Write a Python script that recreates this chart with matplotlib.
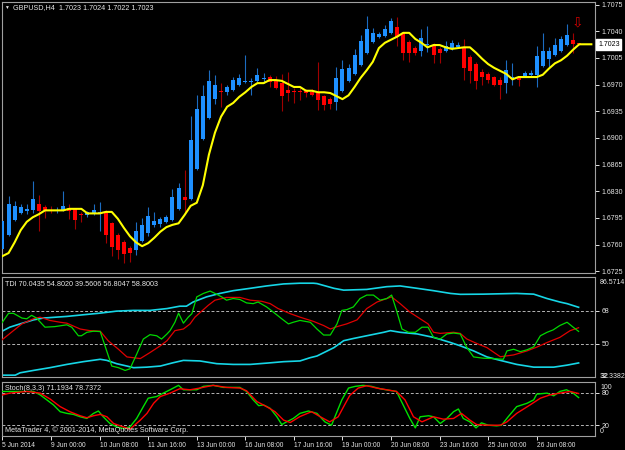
import matplotlib
matplotlib.use("Agg")
import matplotlib.pyplot as plt
import matplotlib.transforms as mtransforms
import numpy as np

plt.rcParams['font.family'] = ['Liberation Sans', 'DejaVu Sans']

# ---------------- data ----------------
opens = [1.6754, 1.6773, 1.6792, 1.6801, 1.6804, 1.6805, 1.6813, 1.6809, 1.6805, 1.6804,
         1.6805, 1.6808, 1.6807, 1.6800, 1.6799, 1.6801, 1.6800, 1.6801, 1.6788, 1.6773,
         1.6763, 1.6756, 1.6753, 1.6765, 1.6775, 1.6786, 1.6787, 1.6790, 1.6792, 1.6807,
         1.6823, 1.6820, 1.6859, 1.6899, 1.6926, 1.6951, 1.6962, 1.6960, 1.6963, 1.6970,
         1.6973, 1.6973, 1.6975, 1.6977, 1.6980, 1.6975, 1.6972, 1.6963, 1.6962, 1.6962,
         1.6962, 1.6960, 1.6959, 1.6955, 1.6951, 1.6947, 1.6962, 1.6975, 1.6984, 1.6996,
         1.7012, 1.7026, 1.7033, 1.7034, 1.7038, 1.7046, 1.7038, 1.7026, 1.7018, 1.7014,
         1.7022, 1.7022, 1.7017, 1.7014, 1.7018, 1.7019, 1.7019, 1.7006, 1.6997, 1.6987,
         1.6984, 1.6980, 1.6976, 1.6972, 1.6979, 1.6980, 1.6981, 1.6983, 1.6983, 1.6995,
         1.7004, 1.7009, 1.7014, 1.7022, 1.7029, 1.7023]
highs = [1.6809, 1.6824, 1.6817, 1.6813, 1.6813, 1.6843, 1.6825, 1.6812, 1.6811, 1.6809,
         1.6830, 1.6813, 1.6808, 1.6803, 1.6804, 1.6813, 1.6816, 1.6805, 1.6790, 1.6775,
         1.6766, 1.6758, 1.6790, 1.6795, 1.6809, 1.6803, 1.6796, 1.6799, 1.6833, 1.6841,
         1.6858, 1.6929, 1.6956, 1.6970, 1.6989, 1.6983, 1.6972, 1.6970, 1.6980, 1.6984,
         1.7009, 1.6979, 1.6992, 1.6985, 1.6983, 1.6981, 1.6984, 1.6987, 1.6966, 1.6966,
         1.6964, 1.6964, 1.7000, 1.6956, 1.6954, 1.6993, 1.7002, 1.6997, 1.7017, 1.7035,
         1.7060, 1.7044, 1.7039, 1.7048, 1.7058, 1.7059, 1.7039, 1.7029, 1.7021, 1.7043,
         1.7047, 1.7025, 1.7019, 1.7027, 1.7029, 1.7026, 1.7030, 1.7009, 1.7000, 1.6991,
         1.6987, 1.6981, 1.6980, 1.7002, 1.6998, 1.6981, 1.6988, 1.6989, 1.7021, 1.7038,
         1.7019, 1.7031, 1.7034, 1.7050, 1.7038, 1.7024]
lows = [1.6753, 1.6771, 1.6791, 1.6800, 1.6800, 1.6801, 1.6778, 1.6795, 1.6801, 1.6801,
        1.6804, 1.6794, 1.6780, 1.6790, 1.6796, 1.6799, 1.6778, 1.6762, 1.6745, 1.6741,
        1.6736, 1.6737, 1.6746, 1.6763, 1.6771, 1.6783, 1.6783, 1.6788, 1.6791, 1.6805,
        1.6801, 1.6819, 1.6858, 1.6897, 1.6925, 1.6945, 1.6941, 1.6956, 1.6962, 1.6968,
        1.6972, 1.6956, 1.6973, 1.6972, 1.6967, 1.6964, 1.6935, 1.6949, 1.6946, 1.6950,
        1.6954, 1.6955, 1.6937, 1.6937, 1.6938, 1.6937, 1.6960, 1.6973, 1.6983, 1.6995,
        1.7010, 1.7025, 1.7031, 1.7033, 1.7037, 1.7021, 1.7002, 1.7000, 1.7009, 1.7008,
        1.7013, 1.6998, 1.6998, 1.7013, 1.7016, 1.7018, 1.6976, 1.6972, 1.6964, 1.6970,
        1.6972, 1.6968, 1.6951, 1.6959, 1.6970, 1.6968, 1.6980, 1.6980, 1.6967, 1.6993,
        1.6993, 1.7008, 1.7013, 1.7021, 1.7012, 1.7022]
closes = [1.6791, 1.6813, 1.6811, 1.6809, 1.6807, 1.6820, 1.6804, 1.6805, 1.6804, 1.6805,
          1.6811, 1.6804, 1.6792, 1.6799, 1.6803, 1.6805, 1.6803, 1.6773, 1.6757, 1.6753,
          1.6748, 1.6749, 1.6778, 1.6786, 1.6798, 1.6791, 1.6794, 1.6796, 1.6823, 1.6834,
          1.6819, 1.6897, 1.6938, 1.6955, 1.6975, 1.6970, 1.6960, 1.6967, 1.6976, 1.6979,
          1.6975, 1.6975, 1.6983, 1.6979, 1.6973, 1.6966, 1.6955, 1.6959, 1.6960, 1.6960,
          1.6959, 1.6956, 1.6950, 1.6943, 1.6945, 1.6979, 1.6991, 1.6992, 1.7009, 1.7027,
          1.7043, 1.7038, 1.7037, 1.7043, 1.7054, 1.7033, 1.7012, 1.7012, 1.7012, 1.7031,
          1.7023, 1.7009, 1.7012, 1.7021, 1.7025, 1.7022, 1.6992, 1.6988, 1.6975, 1.6980,
          1.6976, 1.6970, 1.6970, 1.6989, 1.6980, 1.6976, 1.6985, 1.6985, 1.7008, 1.7014,
          1.7014, 1.7022, 1.7030, 1.7035, 1.7023, 1.7023]

# yellow moving average (shifted forward, so it runs two bars past the last candle)
ma_values = [1.6745, 1.6749, 1.6763, 1.6779, 1.6790, 1.6796, 1.6800, 1.6805, 1.6805, 1.6805,
             1.6805, 1.6807, 1.6807, 1.6807, 1.6801, 1.6801, 1.6801, 1.6803, 1.6803, 1.6794,
             1.6782, 1.6771, 1.6763, 1.6758, 1.6762, 1.6769, 1.6777, 1.6783, 1.6786, 1.6788,
             1.6799, 1.6811, 1.6815, 1.6838, 1.6878, 1.6907, 1.6928, 1.6941, 1.6946, 1.6954,
             1.6960, 1.6967, 1.6972, 1.6972, 1.6976, 1.6976, 1.6975, 1.6971, 1.6967, 1.6967,
             1.6962, 1.6962, 1.6960, 1.6960, 1.6959, 1.6955, 1.6951, 1.6956, 1.6967, 1.6979,
             1.6989, 1.7000, 1.7018, 1.7025, 1.7029, 1.7033, 1.7038, 1.7038, 1.7030, 1.7025,
             1.7019, 1.7022, 1.7022, 1.7019, 1.7017, 1.7018, 1.7019, 1.7019, 1.7012, 1.7004,
             1.6997, 1.6992, 1.6988, 1.6984, 1.6977, 1.6980, 1.6980, 1.6980, 1.6980, 1.6983,
             1.6991, 1.6998, 1.7002, 1.7008, 1.7016, 1.7023, 1.7023, 1.7023]

price_ticks = [1.6725, 1.6760, 1.6795, 1.6830, 1.6865, 1.6900, 1.6935, 1.6970, 1.7005, 1.7040, 1.7075]
last_price = 1.7023
arrow_bar = 95
arrow_price = 1.7051

# TDI (x = bar position, v = value)
tdi_rsi_x = [-0.4, 1.0, 1.8, 3.2, 4.0, 4.8, 5.6, 7.0, 8.6, 10.6, 11.4, 12.5, 13.0, 13.9, 15.0, 16.1,
             18.0, 19.1, 20.2, 21.0, 22.1, 23.2, 24.3, 25.4, 26.2, 27.1, 27.6, 28.4, 29.0, 29.8,
             30.6, 31.2, 32.0, 33.1, 34.2, 35.0, 36.1, 36.9, 38.0, 39.1, 40.2, 41.3, 42.1, 43.5,
             44.6, 46.0, 47.1, 47.9, 49.0, 50.7, 51.8, 52.9, 54.0, 55.1, 55.9, 56.7, 57.8, 58.9,
             60.0, 61.1, 62.2, 63.3, 64.1, 64.9, 65.8, 66.9, 68.0, 69.1, 70.1, 71.0, 72.1, 73.2,
             74.3, 75.4, 76.5, 77.6, 79.2, 80.9, 82.5, 83.1, 84.2, 85.3, 86.4, 87.5, 88.6, 89.7,
             90.7, 91.8, 93.0, 94.0, 94.9]
tdi_rsi_v = [60.0, 66.7, 66.7, 64.1, 63.7, 65.6, 64.1, 59.1, 59.4, 60.4, 59.1, 54.4, 54.4, 56.3, 56.9, 56.7,
             37.8, 36.9, 35.4, 36.3, 44.3, 52.6, 55.0, 54.4, 52.6, 55.4, 57.2, 61.8, 66.8, 61.3,
             64.6, 66.5, 75.7, 77.6, 78.9, 77.6, 75.7, 73.9, 74.8, 74.3, 72.4, 72.0, 72.9, 70.2,
             67.4, 63.7, 60.9, 61.8, 62.8, 61.8, 58.1, 54.8, 54.8, 60.9, 68.3, 68.7, 70.2, 74.8,
             76.7, 76.7, 73.9, 74.8, 76.7, 68.3, 58.1, 56.3, 56.3, 59.1, 59.1, 53.5, 52.6, 55.4,
             55.9, 55.4, 47.9, 42.8, 42.1, 41.9, 41.5, 46.1, 47.0, 45.7, 46.7, 48.3, 54.4, 56.3,
             57.6, 60.0, 61.8, 59.1, 56.8]
tdi_sig_x = [-0.4, 1.8, 3.2, 5.1, 6.2, 7.8, 9.5, 10.6, 11.9, 12.8, 14.4, 16.1, 17.4, 19.1, 20.5, 22.7,
             24.3, 26.0, 27.1, 28.4, 29.8, 30.9, 31.7, 33.9, 35.0, 36.9, 39.1, 40.8, 42.7, 44.1,
             45.4, 47.4, 49.0, 51.2, 52.9, 54.0, 55.1, 56.7, 58.4, 60.0, 61.7, 63.3, 64.1, 65.5,
             67.1, 68.8, 70.1, 71.0, 72.1, 74.3, 75.4, 76.5, 78.1, 79.8, 82.0, 84.2, 86.4, 88.1,
             89.7, 91.8, 93.5, 94.9]
tdi_sig_v = [51.3, 57.2, 60.9, 63.7, 64.6, 62.8, 61.8, 61.3, 59.4, 58.1, 57.2, 56.9, 51.7, 47.0, 42.8, 41.9,
             45.2, 48.9, 51.7, 57.2, 58.1, 60.9, 64.6, 71.1, 73.9, 75.4, 75.4, 73.9, 73.3, 72.0,
             69.3, 66.5, 64.6, 62.3, 60.0, 58.1, 59.4, 60.9, 63.1, 69.3, 72.9, 74.8, 75.7, 72.0,
             67.4, 63.7, 60.9, 56.3, 55.7, 56.3, 55.7, 52.6, 50.2, 47.9, 42.9, 43.9, 46.1, 48.3,
             50.7, 53.5, 57.2, 58.8]
tdi_up_x = [-0.4, 1.2, 2.9, 5.1, 6.7, 10.6, 13.3, 16.1, 18.8, 21.6, 24.3, 27.1, 29.2, 30.3, 31.4, 33.6,
            35.8, 38.0, 40.8, 43.5, 46.3, 49.0, 51.2, 51.8, 54.6, 56.2, 60.0, 63.3, 65.5, 68.3,
            71.0, 73.8, 75.4, 79.2, 84.7, 87.5, 89.7, 91.8, 93.0, 94.9]
tdi_up_v = [56.3, 59.1, 60.9, 63.1, 64.1, 65.0, 65.9, 66.8, 67.9, 68.3, 68.3, 69.3, 70.6, 70.6, 72.9, 75.7,
            77.6, 79.1, 80.4, 81.7, 82.8, 83.2, 83.2, 83.0, 80.4, 79.4, 79.8, 81.3, 81.7, 80.4,
            79.1, 77.6, 77.1, 77.2, 77.6, 77.2, 74.8, 72.9, 72.0, 70.0]
tdi_lo_x = [-0.4, 2.1, 2.9, 5.1, 7.8, 10.6, 13.3, 16.1, 17.2, 18.8, 20.5, 21.6, 23.8, 26.0, 28.1, 29.8,
            32.5, 35.3, 38.0, 40.8, 43.5, 46.3, 49.0, 50.7, 51.8, 54.6, 56.2, 57.8, 60.0, 62.8,
            63.9, 65.5, 68.3, 71.0, 73.8, 75.4, 77.6, 79.8, 82.0, 84.7, 87.5, 90.8, 93.0, 94.9]
tdi_lo_v = [32.8, 32.8, 34.1, 35.4, 36.9, 38.7, 40.2, 41.5, 40.9, 39.1, 37.8, 36.9, 37.2, 37.8, 39.6, 40.9,
            40.6, 39.1, 38.7, 38.7, 39.4, 40.2, 40.6, 42.4, 43.3, 47.9, 51.7, 52.9, 54.4, 56.3,
            57.2, 56.3, 55.4, 53.5, 50.7, 48.9, 46.1, 42.8, 40.9, 38.7, 37.2, 37.2, 38.3, 39.5]
tdi_levels = [68, 50, 32]

# Stochastic (8,3,3)
stk_x = [-0.4, 1.8, 5.1, 6.2, 7.3, 8.4, 9.5, 10.6, 11.7, 12.8, 13.9, 15.0, 15.8, 16.6, 17.7, 18.8,
         19.9, 21.0, 22.1, 23.2, 24.0, 25.4, 26.5, 27.6, 29.0, 29.8, 30.9, 32.0, 33.1, 34.7,
         36.4, 38.0, 39.1, 40.2, 41.3, 42.2, 43.0, 44.1, 45.2, 46.0, 46.8, 47.9, 49.0, 50.4,
         51.8, 53.1, 54.2, 55.1, 55.9, 57.0, 58.1, 59.4, 60.8, 62.2, 63.8, 64.9, 66.0, 67.1,
         68.0, 68.8, 70.2, 71.0, 72.1, 73.2, 74.3, 75.1, 75.9, 77.0, 78.0, 78.9, 80.0, 81.4,
         82.2, 83.3, 84.7, 86.4, 87.5, 88.0, 89.7, 90.8, 91.8, 92.9, 94.0, 94.9]
stk_v = [82.5, 82.5, 82.5, 76.2, 66.9, 57.5, 45.0, 41.9, 40.0, 35.6, 32.5, 41.9, 46.3, 35.6, 23.1, 16.9,
         13.8, 16.9, 32.5, 54.4, 70.0, 73.1, 79.4, 85.6, 93.8, 85.6, 85.6, 85.6, 91.9, 93.8,
         90.0, 90.0, 90.0, 82.5, 66.9, 56.2, 57.5, 51.2, 35.6, 21.2, 26.2, 32.5, 41.9, 46.3,
         41.9, 26.2, 20.0, 45.0, 66.9, 88.8, 91.9, 93.8, 91.9, 87.5, 84.4, 82.5, 57.5, 32.5,
         15.0, 35.6, 37.5, 35.6, 23.1, 32.5, 45.0, 50.0, 32.5, 26.2, 15.0, 24.4, 20.0, 18.8,
         20.0, 35.6, 54.4, 60.6, 66.9, 77.5, 79.4, 74.4, 82.5, 85.6, 79.4, 71.2]
std_x = [-0.4, 1.2, 4.0, 6.2, 7.8, 9.5, 11.1, 12.8, 13.9, 15.0, 16.1, 17.2, 18.3, 19.9, 21.0, 22.7,
         23.8, 24.9, 26.0, 27.6, 29.2, 30.9, 32.5, 34.7, 36.9, 39.1, 40.2, 41.9, 43.5, 44.9,
         46.3, 47.4, 49.0, 50.9, 52.3, 53.9, 55.3, 56.2, 57.2, 58.6, 60.0, 61.6, 63.3, 64.9,
         66.3, 67.7, 69.1, 71.0, 72.6, 74.3, 75.6, 77.0, 78.1, 79.8, 82.0, 83.1, 84.7, 86.9,
         88.6, 90.2, 91.8, 93.5, 94.9]
std_v = [75.0, 79.4, 82.5, 79.4, 68.8, 54.4, 45.0, 37.5, 33.8, 37.5, 40.0, 35.6, 23.1, 16.9, 12.5, 29.4,
         41.9, 60.6, 73.1, 79.4, 87.5, 85.6, 88.8, 93.8, 90.0, 88.8, 83.8, 63.8, 54.4, 45.0,
         29.4, 25.0, 36.0, 45.0, 36.0, 26.2, 35.6, 54.4, 75.0, 88.8, 93.1, 88.8, 85.6, 82.5,
         66.9, 35.6, 26.2, 35.6, 31.2, 32.5, 41.9, 29.4, 21.2, 20.0, 20.0, 26.2, 41.9, 57.5,
         70.0, 76.2, 79.4, 82.5, 78.7]
stoch_levels = [80, 20]

time_tick_bars = [0, 8, 16, 24, 32, 40, 48, 56, 64, 72, 80, 88]
time_tick_labels = ['5 Jun 2014', '9 Jun 00:00', '10 Jun 08:00', '11 Jun 16:00', '13 Jun 00:00',
                    '16 Jun 08:00', '17 Jun 16:00', '19 Jun 00:00', '20 Jun 08:00', '23 Jun 16:00',
                    '25 Jun 00:00', '26 Jun 08:00']

header_text = 'GBPUSD,H4  1.7023 1.7024 1.7022 1.7023'
tdi_text = 'TDI 70.0435 54.8020 39.5606 56.8047 58.8003'
stoch_text = 'Stoch(8,3,3) 71.1934 78.7372'
copyright_text = 'MetaTrader 4, \u00a9 2001-2014, MetaQuotes Software Corp.'

# ---------------- figure ----------------
W, H = 625, 450
fig = plt.figure(figsize=(W / 100, H / 100), dpi=100, facecolor='black')

def px_axes(left, top, right, bottom):
    return fig.add_axes([left / W, 1 - bottom / H, (right - left) / W, (bottom - top) / H])

ax1 = px_axes(2, 2, 595, 273)
ax2 = px_axes(2, 277, 595, 377)
ax3 = px_axes(2, 382, 595, 436)

XL = (-0.08, 97.6)
TXT = '#e6e6e6'
FS = 5.0

for ax in (ax1, ax2, ax3):
    ax.set_facecolor('black')
    ax.set_xlim(*XL)
    for s in ax.spines.values():
        s.set_color('#a0a0a0')
        s.set_linewidth(0.8)
    ax.yaxis.tick_right()
    ax.tick_params(axis='y', colors=TXT, labelcolor=TXT, labelsize=FS, length=3,
                   width=0.7, direction='out', pad=2)
    ax.tick_params(axis='x', bottom=False, labelbottom=False)

# ---- main candles ----
idx = np.arange(len(opens))
o = np.array(opens); h = np.array(highs); l = np.array(lows); c = np.array(closes)
up = c > o
body_col = np.where(up, '#1e90ff', '#ff0000')
wick_col = np.where(up, '#1c6cc0', '#a00000')
ax1.vlines(idx, l, h, colors=wick_col, linewidth=0.8, zorder=2)
bottoms = np.minimum(o, c)
heights = np.maximum(np.abs(c - o), 0.00013)
ax1.bar(idx, heights, bottom=bottoms, width=0.66, color=body_col, linewidth=0, zorder=3)
ax1.plot(np.arange(len(ma_values)), ma_values, color='#ffff00', lw=1.5, zorder=4)

ax1.set_ylim(1.67228, 1.70785)
ax1.set_yticks(price_ticks)
ax1.set_yticklabels(['%.4f' % p for p in price_ticks])

trans1 = mtransforms.blended_transform_factory(ax1.transAxes, ax1.transData)
ax1.text(1 + 3 / 593, last_price, '%.4f' % last_price, transform=trans1, ha='left', va='center',
         fontsize=FS, color='black', clip_on=False, zorder=10,
         bbox=dict(boxstyle='square,pad=0.25', fc='white', ec='white'))
ax1.text(arrow_bar - 0.3, arrow_price, '\u21e9', ha='center', va='center', fontsize=10,
         color='#d00000', family=['DejaVu Sans'], zorder=6)

# ---- TDI ----
ax2.set_ylim(31.8, 86.6)
for lv in tdi_levels:
    ax2.axhline(lv, color='#b4b4b4', lw=0.7, ls=(0, (3, 2)), zorder=1)
ax2.plot(tdi_up_x, tdi_up_v, color='#16d6e6', lw=1.2, zorder=2)
ax2.plot(tdi_lo_x, tdi_lo_v, color='#16d6e6', lw=1.2, zorder=2)
ax2.plot(tdi_sig_x, tdi_sig_v, color='#e00000', lw=0.9, zorder=3)
ax2.plot(tdi_rsi_x, tdi_rsi_v, color='#00d800', lw=0.9, zorder=4)
ax2.set_yticks([68, 50])
ax2.set_yticklabels(['68', '50'])
ax2.text(1 + 5 / 593, 1 - 6 / 100, '86.5714', transform=ax2.transAxes, ha='left', va='center',
         fontsize=FS, color=TXT, clip_on=False)
ax2.text(1 + 5 / 593, 1 / 100, '32.3382', transform=ax2.transAxes, ha='left', va='center',
         fontsize=FS, color=TXT, clip_on=False)
ax2.text(1 + 5.5 / 593, 1 / 100, '32', transform=ax2.transAxes, ha='left', va='center',
         fontsize=FS, color=TXT, clip_on=False)

# ---- Stochastic ----
ax3.set_ylim(0, 100)
for lv in stoch_levels:
    ax3.axhline(lv, color='#b4b4b4', lw=0.7, ls=(0, (3, 2)), zorder=1)
ax3.plot(stk_x, stk_v, color='#00e000', lw=1.0, zorder=3)
ax3.plot(std_x, std_v, color='#ff0000', lw=1.0, zorder=4)
ax3.set_yticks([80, 20])
ax3.set_yticklabels(['80', '20'])
ax3.text(1 + 5 / 593, 0.90, '100', transform=ax3.transAxes, ha='left', va='center',
         fontsize=FS, color=TXT, clip_on=False)
ax3.text(1 + 5 / 593, 0.08, '0', transform=ax3.transAxes, ha='left', va='center',
         fontsize=FS, color=TXT, clip_on=False)

ax3.tick_params(axis='x', bottom=True, labelbottom=True, colors=TXT, labelcolor=TXT,
                labelsize=4.8, length=3, width=0.7, direction='out', pad=1.5)
ax3.set_xticks(time_tick_bars)
ax3.set_xticklabels(time_tick_labels, ha='left')
for lab in ax3.get_xticklabels():
    lab.set_horizontalalignment('left')

# ---- panel texts ----
fig.text(4 / W, 1 - 7 / H, '\u25bc', fontsize=3.5, color=TXT, va='center', ha='left')
fig.text(13 / W, 1 - 7.5 / H, header_text, fontsize=5.2, color=TXT, va='center', ha='left')
fig.text(5 / W, 1 - 284.5 / H, tdi_text, fontsize=5.2, color=TXT, va='center', ha='left')
fig.text(5 / W, 1 - 388.5 / H, stoch_text, fontsize=5.2, color=TXT, va='center', ha='left')
fig.text(5 / W, 1 - 430 / H, copyright_text, fontsize=5.2, color=TXT, va='center', ha='left')

fig.savefig('out.png', dpi=100, facecolor='black')
